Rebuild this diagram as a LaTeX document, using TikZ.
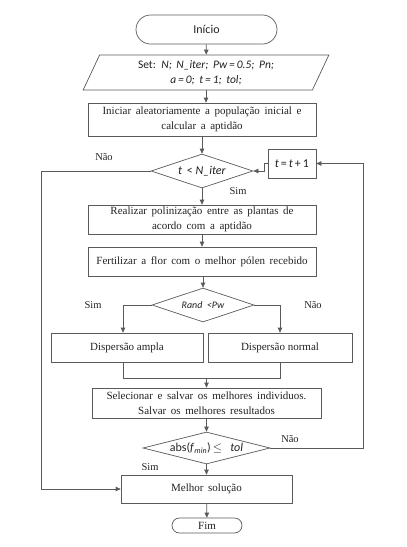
\documentclass[tikz,border=0pt]{standalone}
\usepackage{fontspec}
\setmainfont{Liberation Serif}
\newfontfamily\calfont{Carlito}
\usetikzlibrary{shapes.geometric,shapes.misc,arrows.meta}
\definecolor{ln}{HTML}{5A5A5A}
\definecolor{tx}{HTML}{222222}
\newcommand\widesp{\spaceskip=4.6pt plus 1pt minus 1pt\relax}
\tikzset{
  base/.style={draw=ln, line width=0.7pt, text=tx, inner sep=1pt, align=center, font=\fontsize{11}{15}\selectfont\widesp},
  procbox/.style={base, rectangle},
  term/.style={base, rounded rectangle, font=\calfont\fontsize{12}{13}\selectfont},
  iobox/.style={base, trapezium, trapezium left angle=68, trapezium right angle=112, trapezium stretches=true, font=\calfont\fontsize{11.5}{15}\selectfont\widesp},
  decis/.style={base, diamond, aspect=4, inner sep=0pt},
  arr/.style={draw=ln, line width=0.7pt, -{Triangle[length=5pt,width=4.5pt]}},
  lin/.style={draw=ln, line width=0.7pt},
  lbl/.style={text=tx, font=\fontsize{10.5}{12}\selectfont, inner sep=0pt}
}
\begin{document}
\begin{tikzpicture}[x=1pt,y=-1pt]
\useasboundingbox (0,0) rectangle (407,547);
\node[term, minimum width=143, minimum height=29] (start) at (206.5,29.5) {Início};
\node[iobox, minimum width=246, minimum height=35] (input) at (206,72.5) {Set: \textit{N; N\_iter; Pw\,=\,0.5; Pn;}\\\textit{a\,=\,0; t\,=\,1; tol;}};
\node[procbox, minimum width=228, minimum height=33] (b1) at (202,119.5) {Iniciar aleatoriamente a população inicial e\\calcular a aptidão};
\node[decis, minimum width=102, minimum height=34, font=\calfont\fontsize{12}{13}\selectfont] (d1) at (202,171) {\textit{t}\ \,<\ \textit{N\_iter}};
\node[procbox, minimum width=48, minimum height=29, font=\calfont\fontsize{12}{13}\selectfont] (tb) at (292,163.5) {\textit{t}\,=\,\textit{t}\,+\,1};
\node[procbox, minimum width=228, minimum height=29] (b2) at (202,219.5) {Realizar polinização entre as plantas de\\acordo com a aptidão};
\node[procbox, minimum width=228, minimum height=29] (b3) at (202,261.5) {Fertilizar a flor com o melhor pólen recebido};
\node[decis, minimum width=102, minimum height=34, font=\calfont\fontsize{10}{11}\selectfont] (d2) at (203,305) {\textit{Rand\ \ <Pw}};
\node[procbox, minimum width=152, minimum height=29, font=\fontsize{11}{13}\selectfont] (amp) at (127,347.5) {Dispersão ampla};
\node[procbox, minimum width=144, minimum height=29, font=\fontsize{11}{13}\selectfont] (nor) at (280,347.5) {Dispersão normal};
\node[procbox, minimum width=229, minimum height=30] (b4) at (206.5,403) {Selecionar e salvar os melhores individuos.\\Salvar os melhores resultados};
\node[decis, minimum width=127, minimum height=32, aspect=5, font=\calfont\fontsize{12}{13}\selectfont] (d3) at (206.5,448) {abs(\textit{f}\textsubscript{\textit{min}})\,$\leq$\ \ \ \textit{tol}};
\node[procbox, minimum width=171, minimum height=28] (best) at (206.5,489) {Melhor solução};
\node[term, minimum width=72, minimum height=15, font=\fontsize{11}{12}\selectfont, inner ysep=0pt] (fim) at (207,525.5) {Fim};
% coordinates
\coordinate (lx) at (41,171);
\coordinate (rx) at (363,448);
\coordinate (ma) at (123,378);
\coordinate (mn) at (280,378);
\coordinate (mm) at (206.5,378);
% connectors
\draw[arr] (start) -- (input);
\draw[arr] (input.south) -- (input.south |- b1.north);
\draw[arr] (b1) -- (d1);
\draw[arr] (d1) -- (b2);
\draw[arr] (b2) -- (b3);
\draw[arr] (b3.south) -- (b3.south -| d2.north) -- (d2.north);
\draw[arr] (d2.west) -| (amp.north -| ma);
\draw[arr] (d2.east) -| (nor.north);
\draw[lin] (amp.south -| ma) -- (ma) -- (mn) -- (nor.south);
\draw[arr] (mm) -- (b4);
\draw[arr] (b4) -- (d3);
\draw[arr] (d3) -- (best);
\draw[arr] (best) -- (fim);
\draw[arr] (d1.west) -- (lx) |- (best.west);
\draw[arr] (d3.east) -- (rx) |- (tb.east);
\draw[arr] (tb.west) -- ++(-3,0) |- (d1.east);
% labels
\node[lbl] (l1) at (104,157) {Não};
\node[lbl] (l2) at (238,191) {Sim};
\node[lbl] (l3) at (93,305) {Sim};
\node[lbl] (l4) at (313,305) {Não};
\node[lbl] (l5) at (290,439) {Não};
\node[lbl] (l6) at (150,467) {Sim};
\end{tikzpicture}
\end{document}
